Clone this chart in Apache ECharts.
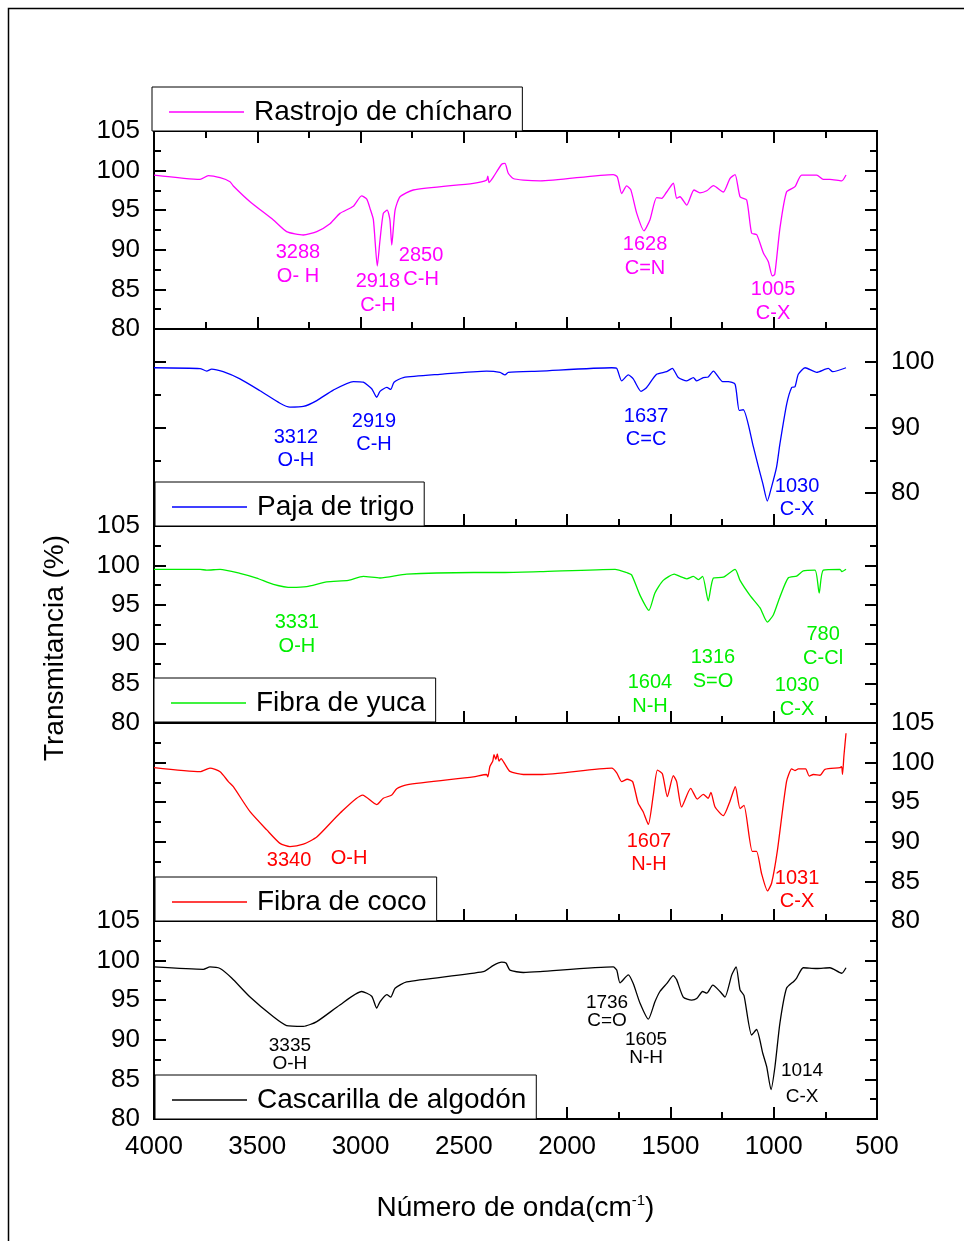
<!DOCTYPE html>
<html>
<head>
<meta charset="utf-8">
<script src="https://cdn.jsdelivr.net/npm/echarts@6/dist/echarts.min.js"></script>
<style>
html, body { margin: 0; padding: 0; background: #fff; }
#main { width: 964px; height: 1241px; }
</style>
</head>
<body>
<div id="main"></div>
<script>
// ---- datos (numero de onda cm-1, transmitancia %) ----
var chicharoWave = [4000, 3777, 3737, 3680, 3632, 3616, 3535, 3422, 3358, 3277, 3212, 3148, 3100, 3035, 2995, 2970, 2954, 2938, 2919, 2906, 2890, 2871, 2858, 2849, 2833, 2809, 2745, 2454, 2390, 2384, 2378, 2357, 2317, 2301, 2285, 2261, 2212, 2131, 1777, 1757, 1736, 1712, 1692, 1663, 1628, 1599, 1567, 1542, 1518, 1486, 1470, 1454, 1421, 1386, 1357, 1324, 1292, 1244, 1212, 1187, 1163, 1131, 1107, 1082, 1050, 1026, 1007, 995, 970, 938, 897, 865, 792, 760, 728, 671, 650];
var chicharoT = [99.44, 98.9, 99.36, 99.1, 98.6, 98.06, 96.07, 93.76, 92.3, 91.87, 92.3, 93.3, 94.6, 95.5, 96.8, 96.4, 95.2, 93.8, 87.95, 91.2, 94.6, 95.0, 93.8, 90.6, 95.0, 96.7, 97.55, 98.4, 98.8, 99.3, 98.5, 99.2, 100.8, 100.9, 99.66, 99.0, 98.8, 98.7, 99.5, 99.2, 97.1, 98.06, 97.6, 94.6, 92.4, 93.8, 96.6, 96.5, 97.3, 98.4, 96.5, 96.7, 95.65, 97.55, 97.2, 97.45, 98.1, 97.3, 99.0, 99.5, 96.7, 96.3, 92.1, 91.9, 89.6, 88.5, 86.7, 86.9, 92.7, 97.3, 97.97, 99.44, 99.44, 98.9, 98.9, 98.7, 99.44];

var pajaWave = [4000, 3777, 3745, 3721, 3665, 3584, 3487, 3390, 3342, 3277, 3212, 3132, 3035, 2987, 2946, 2922, 2906, 2873, 2854, 2838, 2793, 2616, 2390, 2325, 2301, 2285, 2131, 1784, 1760, 1736, 1704, 1680, 1642, 1615, 1567, 1518, 1491, 1462, 1421, 1389, 1373, 1341, 1317, 1292, 1247, 1220, 1187, 1167, 1147, 1098, 1074, 1053, 1031, 1010, 986, 970, 937, 913, 897, 881, 848, 792, 736, 715, 650];
var pajaT = [99.1, 98.98, 98.6, 98.9, 98.5, 97.4, 95.6, 93.7, 93.1, 93.2, 94.1, 95.7, 97.0, 96.9, 95.9, 94.6, 95.5, 96.1, 95.8, 96.9, 97.6, 98.1, 98.6, 98.4, 98.0, 98.4, 98.6, 99.1, 99.0, 97.1, 98.0, 97.4, 95.5, 96.1, 98.1, 98.5, 99.0, 97.6, 97.1, 97.6, 97.1, 97.6, 97.7, 98.6, 97.0, 97.0, 96.6, 92.6, 92.7, 87.0, 84.0, 81.5, 78.8, 81.0, 84.0, 87.5, 93.6, 96.1, 96.2, 98.1, 99.1, 98.4, 99.0, 98.5, 99.1];

var yucaWave = [4000, 3777, 3745, 3680, 3584, 3503, 3422, 3333, 3261, 3164, 3059, 2987, 2906, 2777, 2454, 2301, 2131, 1768, 1712, 1688, 1647, 1604, 1575, 1535, 1481, 1454, 1421, 1389, 1365, 1344, 1317, 1292, 1244, 1187, 1163, 1115, 1066, 1031, 1002, 970, 930, 889, 857, 800, 780, 760, 679, 670, 650];
var yucaT = [99.5, 99.5, 99.4, 99.5, 99.0, 98.4, 97.6, 97.2, 97.3, 97.9, 98.1, 98.6, 98.4, 98.9, 99.1, 99.1, 99.2, 99.5, 99.1, 98.8, 96.2, 94.3, 96.5, 98.1, 98.9, 98.6, 98.3, 98.6, 98.2, 98.6, 95.5, 98.4, 98.5, 99.5, 98.1, 96.2, 94.6, 92.8, 93.7, 96.0, 98.4, 98.65, 99.3, 99.4, 96.5, 99.4, 99.5, 99.2, 99.5];

var cocoWave = [4000, 3777, 3729, 3680, 3640, 3616, 3535, 3454, 3390, 3342, 3277, 3212, 3100, 2990, 2922, 2890, 2849, 2825, 2777, 2454, 2390, 2384, 2374, 2360, 2354, 2345, 2338, 2330, 2320, 2301, 2277, 2212, 2131, 1784, 1760, 1736, 1709, 1683, 1656, 1632, 1607, 1583, 1563, 1539, 1515, 1486, 1470, 1446, 1402, 1370, 1341, 1317, 1304, 1284, 1244, 1212, 1186, 1163, 1144, 1104, 1083, 1059, 1030, 1010, 983, 938, 913, 897, 881, 857, 845, 828, 808, 776, 752, 679, 671, 667, 660, 650];
var cocoT = [99.36, 98.85, 99.3, 98.85, 97.6, 96.96, 93.8, 91.5, 89.8, 89.4, 89.7, 90.6, 93.6, 95.9, 94.7, 95.5, 95.9, 96.7, 97.2, 98.2, 98.5, 98.2, 99.5, 100.2, 101.0, 100.4, 101.1, 100.2, 100.5, 99.8, 98.9, 98.5, 98.5, 99.3, 98.7, 97.6, 97.9, 97.6, 94.86, 93.8, 92.2, 95.9, 99.06, 98.6, 95.7, 98.35, 97.6, 94.4, 96.75, 95.4, 96.0, 95.5, 96.25, 94.4, 93.3, 95.1, 96.95, 94.2, 94.6, 88.8, 88.8, 86.0, 83.8, 84.8, 88.75, 97.6, 99.2, 99.0, 99.2, 99.2, 99.2, 98.3, 98.5, 98.4, 99.15, 99.36, 99.5, 98.5, 100.9, 103.7];

var algodonWave = [4000, 3761, 3729, 3680, 3624, 3535, 3422, 3358, 3277, 3212, 3100, 2995, 2946, 2922, 2906, 2873, 2854, 2833, 2777, 2406, 2357, 2317, 2296, 2277, 2212, 2131, 1777, 1760, 1744, 1704, 1680, 1647, 1607, 1575, 1551, 1518, 1486, 1470, 1438, 1397, 1373, 1344, 1324, 1295, 1260, 1236, 1203, 1182, 1163, 1144, 1107, 1083, 1053, 1034, 1013, 994, 970, 938, 902, 889, 857, 792, 728, 671, 650];
var algodonT = [99.2, 98.9, 99.2, 99.0, 97.8, 95.4, 92.9, 91.8, 91.7, 92.3, 94.4, 96.1, 95.5, 94.0, 94.8, 95.7, 95.4, 96.5, 97.3, 98.6, 99.4, 99.8, 99.7, 98.8, 98.5, 98.6, 99.2, 98.8, 97.2, 98.2, 97.1, 94.6, 92.6, 94.8, 96.1, 97.1, 98.1, 97.6, 95.4, 95.0, 95.2, 96.1, 95.9, 96.9, 96.1, 95.4, 98.2, 99.2, 96.3, 95.6, 90.6, 91.3, 88.3, 86.6, 83.7, 86.6, 92.1, 96.5, 97.4, 97.8, 99.1, 99.0, 99.1, 98.4, 99.1];

// anotaciones: [texto, numero de onda, transmitancia]
var chicharoNotes = [['3288\nO- H', 3303, 88.2], ['2918\nC-H', 2916, 84.5], ['2850\nC-H', 2707, 87.8], ['1628\nC=N', 1623, 89.15], ['1005\nC-X', 1003, 83.5]];
var pajaNotes = [['3312\nO-H', 3313, 86.67], ['2919\nC-H', 2935, 89.1], ['1637\nC=C', 1618, 90.0], ['1030\nC-X', 887, 79.24]];
var yucaNotes = [['3331\nO-H', 3308, 91.17], ['1604\nN-H', 1599, 83.68], ['1316\nS=O', 1294, 86.73], ['780\nC-Cl', 761, 89.7], ['1030\nC-X', 887, 83.3]];
var cocoNotes = [['3340', 3346, 87.7], ['O-H', 3056, 87.95], ['1607\nN-H', 1604, 88.6], ['1031\nC-X', 887, 83.9]];
var algodonNotes = [['3335\nO-H', 3342, 88.1], ['1736\nC=O', 1807, 93.57], ['1605\nN-H', 1618, 88.84], ['1014', 863, 86.06], ['C-X', 863, 82.78]];

var xTicks = [4000, 3500, 3000, 2500, 2000, 1500, 1000, 500];

var FONT = 'Liberation Sans, Arial, sans-serif';

var panels = [
	{ name: 'Rastrojo de chícharo', color: '#ff00ff', wave: chicharoWave, t: chicharoT, notes: chicharoNotes, side: 'left', top: 131, height: 198, lgLeft: 152, lgTop: 87, noteSize: 20, noteLH: 24 },
	{ name: 'Paja de trigo', color: '#0000ff', wave: pajaWave, t: pajaT, notes: pajaNotes, side: 'right', top: 329, height: 197, lgLeft: 155, lgTop: 482, noteSize: 20, noteLH: 23 },
	{ name: 'Fibra de yuca', color: '#00ee00', wave: yucaWave, t: yucaT, notes: yucaNotes, side: 'left', top: 526, height: 197, lgLeft: 154, lgTop: 678, noteSize: 20, noteLH: 24 },
	{ name: 'Fibra de coco', color: '#ff0000', wave: cocoWave, t: cocoT, notes: cocoNotes, side: 'right', top: 723, height: 198, lgLeft: 155, lgTop: 877, noteSize: 20, noteLH: 23 },
	{ name: 'Cascarilla de algodón', color: '#000000', wave: algodonWave, t: algodonT, notes: algodonNotes, side: 'left', top: 921, height: 198, lgLeft: 155, lgTop: 1075, noteSize: 19, noteLH: 18 }
];

var myChart = echarts.init(document.getElementById('main'));

var grids = [], xAxes = [], yAxes = [], series = [], legends = [];
var axisLine = { show: true, lineStyle: { color: '#000', width: 2 } };

panels.forEach(function (p, i) {
	grids.push({ left: 154, width: 723, top: p.top, height: p.height, show: true, borderColor: '#000', borderWidth: 2 });

	// eje x inferior de cada panel, ticks hacia dentro
	xAxes.push({
		gridIndex: i, type: 'value', min: 500, max: 4000, interval: 500, inverse: true, position: 'bottom',
		axisLine: axisLine,
		axisTick: { show: true, inside: true, length: 12, lineStyle: { width: 2, color: '#000' } },
		minorTick: { show: true, splitNumber: 2, length: 7, lineStyle: { width: 2, color: '#000' } },
		splitLine: { show: false },
		axisLabel: {
			show: i == panels.length - 1, fontSize: 26, color: '#000', fontFamily: FONT, margin: 15,
			customValues: xTicks,
			formatter: function (v) { return String(v); }
		},
		name: i == panels.length - 1 ? 'Número de onda(cm{sup|-1})' : '',
		nameLocation: 'middle', nameGap: 74,
		nameTextStyle: {
			fontSize: 28, color: '#000', fontFamily: FONT,
			rich: { sup: { fontSize: 15, color: '#000', fontFamily: FONT, verticalAlign: 'top', padding: [0, 0, 16, 0] } }
		}
	});

	var isPaja = (i == 1);
	var yMin = isPaja ? 75 : 80;
	var labelVals = isPaja ? [80, 90, 100] : [80, 85, 90, 95, 100, 105];
	['left', 'right'].forEach(function (pos) {
		var main = (pos == p.side);
		yAxes.push({
			gridIndex: i, type: 'value', min: yMin, max: 105, interval: 5, position: pos,
			axisLine: axisLine,
			axisTick: isPaja
				? { show: true, inside: true, length: 12, customValues: [80, 90, 100], lineStyle: { width: 2, color: '#000' } }
				: { show: true, inside: true, length: 12, lineStyle: { width: 2, color: '#000' } },
			minorTick: { show: !isPaja, splitNumber: 2, length: 7, lineStyle: { width: 2, color: '#000' } },
			splitLine: { show: false },
			axisLabel: { show: main, fontSize: 26, color: '#000', fontFamily: FONT, margin: 14, customValues: labelVals }
		});
		if (isPaja) {
			// ticks cortos intermedios del panel de paja
			yAxes.push({
				gridIndex: i, type: 'value', min: yMin, max: 105, interval: 5, position: pos,
				axisLine: { show: false },
				axisTick: { show: true, inside: true, length: 7, customValues: [85, 95], lineStyle: { width: 2, color: '#000' } },
				splitLine: { show: false },
				axisLabel: { show: false }
			});
		}
	});

	var data = p.wave.map(function (w, k) { return [w, p.t[k]]; });
	series.push({
		name: p.name, type: 'line', xAxisIndex: i, yAxisIndex: yAxes.length - (isPaja ? 4 : 2),
		data: data, symbol: 'none', smooth: 0.2, animation: false,
		lineStyle: { color: p.color, width: 1.3 }, itemStyle: { color: p.color },
		markPoint: {
			symbol: 'circle', symbolSize: 0, silent: true,
			label: { show: true, position: 'inside', formatter: '{b}', color: p.color, fontSize: p.noteSize, lineHeight: p.noteLH, fontFamily: FONT },
			data: p.notes.map(function (n) { return { name: n[0], coord: [n[1], n[2]] }; })
		}
	});

	legends.push({
		data: [p.name], left: p.lgLeft, top: p.lgTop, orient: 'horizontal', selectedMode: false,
		icon: 'rect', itemWidth: 75, itemHeight: 1.5, itemGap: 0,
		backgroundColor: '#fff', borderColor: '#000', borderWidth: 1, borderRadius: 0,
		padding: [11, 10, 5, 17],
		textStyle: { fontSize: 28, color: '#000', fontFamily: FONT, padding: [0, 0, 0, 5] },
		z: 10
	});
});

// eje x superior solo en el primer panel
xAxes.push({
	gridIndex: 0, type: 'value', min: 500, max: 4000, interval: 500, inverse: true, position: 'top',
	axisLine: axisLine,
	axisTick: { show: true, inside: true, length: 12, lineStyle: { width: 2, color: '#000' } },
	minorTick: { show: true, splitNumber: 2, length: 7, lineStyle: { width: 2, color: '#000' } },
	splitLine: { show: false },
	axisLabel: { show: false }
});

myChart.setOption({
	animation: false,
	backgroundColor: '#fff',
	grid: grids,
	xAxis: xAxes,
	yAxis: yAxes,
	legend: legends,
	series: series,
	graphic: [
		{ type: 'rect', shape: { x: 8.5, y: 8.5, width: 960, height: 1240 }, style: { fill: 'none', stroke: '#000', lineWidth: 1.5 }, silent: true },
		{
			type: 'text', x: 55, y: 648, rotation: Math.PI / 2, silent: true,
			style: { text: 'Transmitancia (%)', fontSize: 28, fill: '#000', fontFamily: FONT, align: 'center', verticalAlign: 'middle' }
		}
	]
});
</script>
</body>
</html>
